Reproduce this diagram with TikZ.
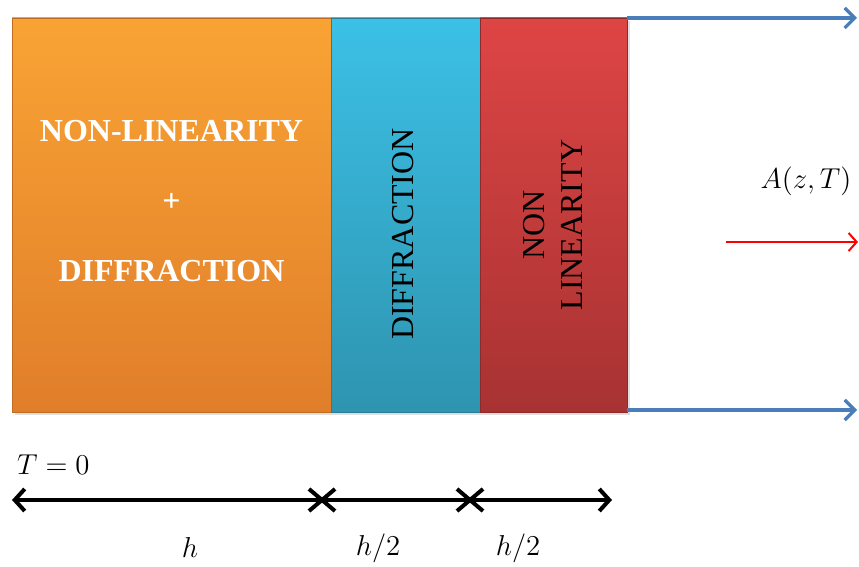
\documentclass[tikz,border=0pt]{standalone}
\usepackage{fontspec}
\setmainfont{Liberation Serif}
\usepackage{xcolor}
\definecolor{orangetop}{HTML}{F9A334}
\definecolor{orangebot}{HTML}{E07E2A}
\definecolor{cyantop}{HTML}{3CC0E6}
\definecolor{cyanbot}{HTML}{2E94B0}
\definecolor{redtop}{HTML}{DE4545}
\definecolor{redbot}{HTML}{A83232}
\definecolor{outblue}{HTML}{4A7EBB}
\usepackage{tikz}
\usetikzlibrary{arrows.meta,positioning,shapes.misc,shadows}

\begin{document}
\begin{tikzpicture}[x=0.5pt, y=-0.5pt,
      slab/.style={rectangle, inner sep=0pt, outer sep=0pt, minimum height=197pt, drop shadow={shadow xshift=1.5pt, shadow yshift=-1.5pt, opacity=0.25}},
      slabtext/.style={align=center, font=\fontsize{16}{19}\selectfont},
      outarrow/.style={outblue, line width=1.6pt, -{Straight Barb[length=5pt, width=10pt, line width=1.6pt]}},
      steparrow/.style={line width=2pt, -{Straight Barb[length=5pt, width=11pt, line width=2pt]}},
      stepmark/.style={cross out, draw, line width=2pt, minimum width=11pt, minimum height=9pt, inner sep=0pt},
      mathlabel/.style={font=\fontsize{15.5}{18}\selectfont}
    ]
    \useasboundingbox (0,0) rectangle (859,567);

    % slabs of one step
    \node[slab, minimum width=159.5pt, top color=orangetop, bottom color=orangebot, draw=orangebot!85!black] (nl) at (171.5,215) {};
    \node[slab, minimum width=74.5pt, top color=cyantop, bottom color=cyanbot, draw=cyanbot!85!black] (df) at (405.5,215) {};
    \node[slab, minimum width=73.5pt, top color=redtop, bottom color=redbot, draw=redbot!85!black] (nn) at (553.5,215) {};

    \node[slabtext, text=white, font=\fontsize{16}{35}\selectfont\bfseries] (nltext) at (171.5,201) {NON-LINEARITY\\+\\DIFFRACTION};
    \node[slabtext, rotate=90] (dftext) at (403,234) {DIFFRACTION};
    \node[slabtext, rotate=90] (nntext) at (553,225) {NON\\LINEARITY};

    % output
    \coordinate (outtop) at (857,18);
    \coordinate (outbot) at (857,410);
    \draw[outarrow] (nn.north east) -- (nn.north east -| outtop);
    \draw[outarrow] ([yshift=1pt]nn.south east) -- ([yshift=1pt]nn.south east -| outbot);
    \node[mathlabel] (field) at (806,181) {$A(z,T)$};
    \coordinate (fieldstart) at (726,242);
    \coordinate (fieldend) at (858,242);
    \draw[red, line width=1pt, -{Straight Barb[length=4pt, width=9pt, line width=1pt]}] (fieldstart) -- (fieldend);

    % step axis
    \node[mathlabel, anchor=west] (tzero) at (10,465) {$T=0$};
    \coordinate (t0) at (12,500);
    \coordinate (t3) at (612,500);
    \node[stepmark] (t1) at (322,500) {};
    \node[stepmark] (t2) at (470,500) {};
    \draw[steparrow] (t1.center) -- (t0);
    \draw[line width=2pt] (t1.center) -- (t2.center);
    \draw[steparrow] (t2.center) -- (t3);
    \node[mathlabel] (hfull) at (190,548) {$h$};
    \node[mathlabel] (hhalfa) at (378,548) {$h/2$};
    \node[mathlabel] (hhalfb) at (518,548) {$h/2$};
  \end{tikzpicture}
\end{document}
